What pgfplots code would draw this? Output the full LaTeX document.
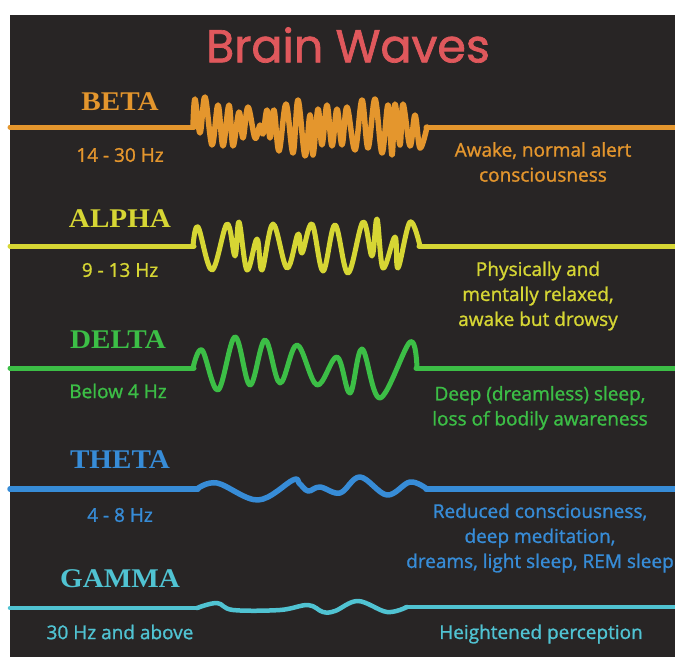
\documentclass[border=0pt]{standalone}
\usepackage{fontspec}
\usepackage{pgfplots}
\pgfplotsset{compat=1.18}
\setmainfont{Open Sans}
\newfontfamily\subfont[FakeBold=1.2]{Open Sans}
\newfontfamily\titlefont[FakeBold=1.5]{Poppins}
\newfontfamily\labfont[FakeStretch=1.08]{Liberation Serif}
\newcommand\sub{\subfont\fontsize{19bp}{25bp}\selectfont}
\newcommand\lab{\labfont\bfseries\fontsize{27bp}{30bp}\selectfont}
\definecolor{bg}{RGB}{40,37,37}
\definecolor{titlec}{RGB}{224,88,92}
\definecolor{betac}{RGB}{228,150,45}
\definecolor{alphac}{RGB}{214,214,52}
\definecolor{deltac}{RGB}{60,190,70}
\definecolor{thetac}{RGB}{55,140,215}
\definecolor{gammac}{RGB}{80,195,210}
\begin{document}
\begin{tikzpicture}
\useasboundingbox (0,0) rectangle (675bp,657bp);
\begin{axis}[
  width=675bp, height=657bp, scale only axis,
  xmin=0, xmax=675, ymin=0, ymax=657, y dir=reverse,
  axis lines=none, ticks=none, clip=true,
  every axis plot/.append style={line join=round, line cap=round},
]
\fill[white] (axis cs:0,0) rectangle (axis cs:675,657);
\fill[bg] (axis cs:10,15) rectangle (axis cs:675,657);

% BETA
\addplot[betac, line width=5bp] coordinates {(10,127) (194,127)};
\addplot[betac, line width=5bp] coordinates {(426,127) (675,127)};
\addplot[betac, line width=5.5bp, smooth, tension=0.6] coordinates {
(193,127) (195,99) (200,133) (205,97) (212,145) (218,105) (223,146) (229,105)
(233,146) (239,112) (243,138) (248,107) (255,138) (260,125) (263,134) (267,110)
(270,138) (274,110) (279,151) (286,104) (293,153) (298,100) (305,156) (310,115)
(313,155) (318,109) (322,145) (327,105) (332,146) (337,109) (342,145) (347,107)
(355,150) (362,100) (368,148) (375,99) (382,153) (388,105) (392,155) (395,104)
(400,145) (403,104) (410,146) (415,115) (420,148) (427,127)};

% ALPHA
\addplot[alphac, line width=5bp] coordinates {(10,246) (194,246)};
\addplot[alphac, line width=5bp] coordinates {(419,246) (675,246)};
\addplot[alphac, line width=5bp, smooth, tension=0.6] coordinates {
(193,246) (198,227) (212,270) (227,224) (235,256) (239,222) (247,270) (257,239)
(262,270) (273,224) (287,268) (298,234) (302,253) (312,224) (323,271) (335,225)
(348,273) (363,222) (372,256) (377,219) (383,268) (395,237) (398,268) (410,222)
(420,246)};

% DELTA
\addplot[deltac, line width=5bp] coordinates {(10,368) (194,368)};
\addplot[deltac, line width=5bp] coordinates {(416,368) (675,368)};
\addplot[deltac, line width=5bp, smooth, tension=0.6] coordinates {
(193,368) (202,350) (218,390) (235,337) (250,385) (265,340) (280,383) (297,345)
(317,385) (337,357) (350,393) (362,349) (380,398) (410,342) (417,368)};

% THETA
\addplot[thetac, line width=5.5bp] coordinates {(10,489) (198,489)};
\addplot[thetac, line width=5.5bp] coordinates {(426,489) (675,489)};
\addplot[thetac, line width=5.5bp, smooth, tension=0.6] coordinates {
(197,489) (217,483) (258,500) (293,480) (299,483) (308,491) (320,487) (340,493)
(360,477) (387,495) (410,482) (427,489)};

% GAMMA
\addplot[gammac, line width=4.5bp] coordinates {(10,608) (198,608)};
\addplot[gammac, line width=4.5bp] coordinates {(406,607) (675,607)};
\addplot[gammac, line width=4.5bp, smooth, tension=0.6] coordinates {
(197,608) (217,603) (233,610) (280,610) (308,605) (323,612) (335,611) (358,601)
(387,612) (407,607)};

% Title
\node[titlec, font=\titlefont\fontsize{46bp}{50bp}\selectfont] at (axis cs:348,45) {Brain Waves};

% Left labels
\node[betac, font=\lab] at (axis cs:120,102) {BETA};
\node[alphac, font=\lab] at (axis cs:120,219) {ALPHA};
\node[deltac, font=\lab] at (axis cs:118,340) {DELTA};
\node[thetac, font=\lab] at (axis cs:120,460) {THETA};
\node[gammac, font=\lab] at (axis cs:120,579) {GAMMA};

\node[betac, font=\sub] at (axis cs:120,155) {14 - 30 Hz};
\node[alphac, font=\sub] at (axis cs:120,270) {9 - 13 Hz};
\node[deltac, font=\sub] at (axis cs:118,391) {Below 4 Hz};
\node[thetac, font=\sub] at (axis cs:120,515) {4 - 8 Hz};
\node[gammac, font=\sub] at (axis cs:120,632) {30 Hz and above};

% Right descriptions
\node[betac, font=\sub, align=center] at (axis cs:543,162) {Awake, normal alert\\consciousness};
\node[alphac, font=\sub, align=center] at (axis cs:538,296) {Physically and\\mentally relaxed,\\awake but drowsy};
\node[deltac, font=\sub, align=center] at (axis cs:540,408) {Deep (dreamless) sleep,\\loss of bodily awareness};
\node[thetac, font=\sub, align=center] at (axis cs:540,538) {Reduced consciousness,\\deep meditation,\\dreams, light sleep, REM sleep};
\node[gammac, font=\sub] at (axis cs:541,634) {Heightened perception};
\end{axis}
\end{tikzpicture}
\end{document}
